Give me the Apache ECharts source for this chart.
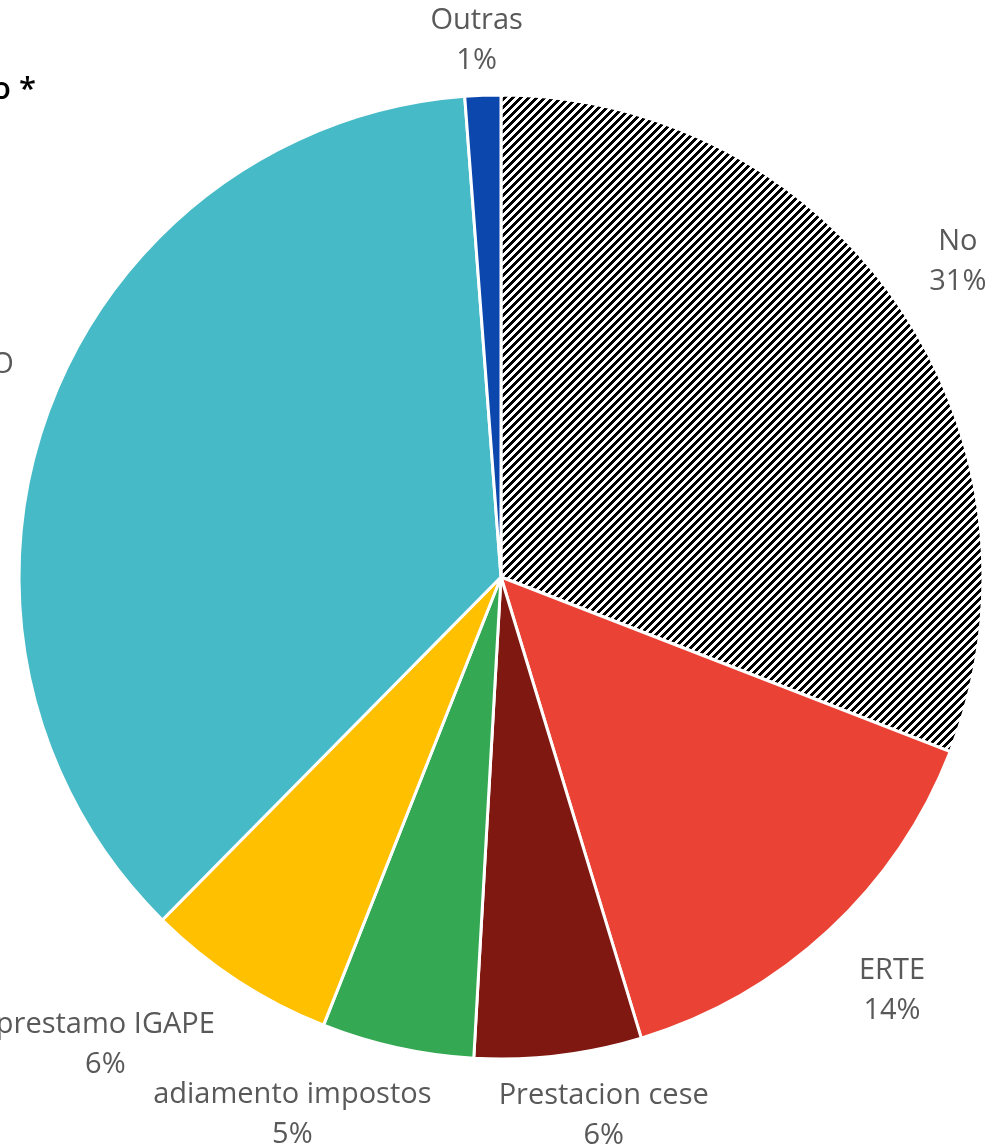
<!DOCTYPE html>
<html>
<head>
<meta charset="utf-8">
<script src="https://cdn.jsdelivr.net/npm/echarts@6/dist/echarts.min.js"></script>
<style>
  html, body { margin: 0; padding: 0; background: #fff; }
  #chart { width: 994px; height: 1148px; }
</style>
</head>
<body>
<div id="chart"></div>
<script>
// Answers, clockwise from 12 o'clock
const categories = ['No', 'ERTE', 'Prestacion cese', 'adiamento impostos', 'prestamo IGAPE', 'Axuda CONCELLO', 'Outras'];
const shares = [30.9, 14.4, 5.6, 5.1, 6.4, 36.4, 1.2];
const titleText = 'Solicitou algunha axuda económica para o negocio *';

// Striped fill for the "No" slice
function makeHatch() {
  const size = 8;
  const c = document.createElement('canvas');
  c.width = size; c.height = size;
  const ctx = c.getContext('2d');
  const img = ctx.createImageData(size, size);
  for (let y = 0; y < size; y++) {
    for (let x = 0; x < size; x++) {
      const on = ((x + y) % size) < 4;
      const i = (y * size + x) * 4;
      const v = on ? 0 : 255;
      img.data[i] = v; img.data[i + 1] = v; img.data[i + 2] = v; img.data[i + 3] = 255;
    }
  }
  ctx.putImageData(img, 0, 0);
  return { image: c, repeat: 'repeat' };
}

const sliceColors = [makeHatch(), '#EA4335', '#7F1810', '#34A853', '#FFC000', '#46BAC6', '#0B47AC'];

// Pie geometry
const CX = 501, CY = 577, R = 482;

// Where each label sits: [bearing in degrees clockwise from top, distance from centre]
const labelPlacement = {
  'No': [55.4, 555],
  'ERTE': [136.6, 569],
  'Prestacion cese': [169.2, 548],
  'adiamento impostos': [201.2, 577],
  'prestamo IGAPE': [220.2, 613],
  'Axuda CONCELLO': [287.5, 638],
  'Outras': [357.4, 537]
};

const chart = echarts.init(document.getElementById('chart'), null, { renderer: 'canvas' });

chart.setOption({
  animation: false,
  backgroundColor: '#ffffff',
  graphic: [{
    type: 'text',
    right: 994 - 36,
    top: 75,
    style: {
      text: titleText,
      fill: '#000000',
      font: '600 31px "Open Sans"',
      textAlign: 'right'
    }
  }],
  series: [{
    type: 'pie',
    center: [CX, CY],
    radius: [0, R],
    startAngle: 90,
    clockwise: true,
    avoidLabelOverlap: false,
    data: categories.map((name, i) => ({
      name,
      value: shares[i],
      itemStyle: { color: sliceColors[i] }
    })),
    itemStyle: { borderColor: '#ffffff', borderWidth: 3 },
    label: {
      show: true,
      position: 'outside',
      formatter: p => p.name + '\n' + Math.round(p.percent) + '%',
      color: '#595959',
      fontFamily: 'Open Sans',
      fontSize: 29,
      lineHeight: 40,
      align: 'center'
    },
    labelLine: { show: false },
    labelLayout: function (params) {
      const name = categories[params.dataIndex];
      const pl = labelPlacement[name];
      const a = pl[0] * Math.PI / 180;
      return {
        x: CX + Math.sin(a) * pl[1],
        y: CY - Math.cos(a) * pl[1],
        align: 'center',
        verticalAlign: 'middle'
      };
    }
  }]
});
</script>
</body>
</html>
